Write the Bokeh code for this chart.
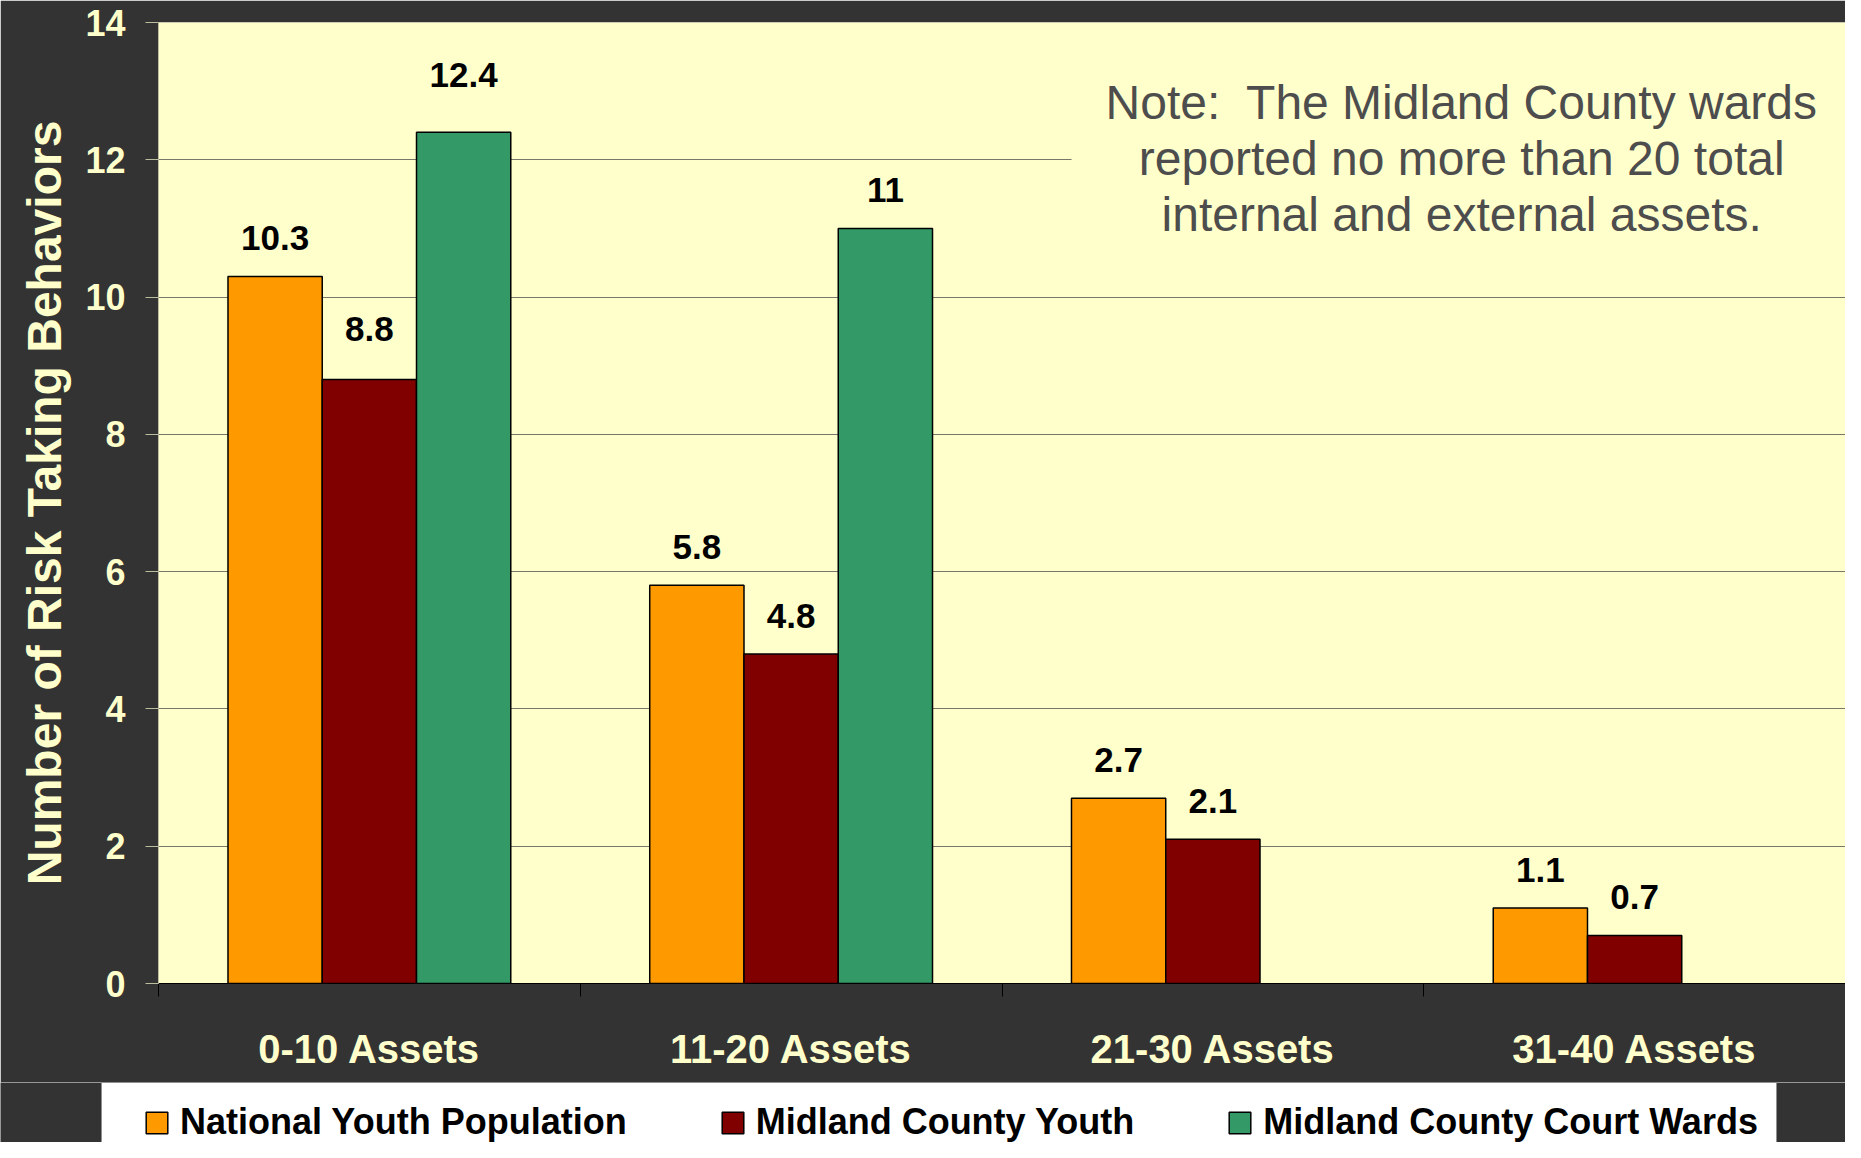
from bokeh.plotting import figure
from bokeh.models import (ColumnDataSource, Range1d, FixedTicker, Legend, LegendItem, Label)
from bokeh.layouts import column, row
from bokeh.core.properties import value
from bokeh.embed import file_html
from bokeh.resources import INLINE

categories = ["0-10 Assets", "11-20 Assets", "21-30 Assets", "31-40 Assets"]
series_names = ["National Youth Population", "Midland County Youth", "Midland County Court Wards"]
national = [10.3, 5.8, 2.7, 1.1]
midland_youth = [8.8, 4.8, 2.1, 0.7]
court_wards = [12.4, 11.0, None, None]
series_colors = ["#FF9900", "#800000", "#339966"]
y_ticks = [0, 2, 4, 6, 8, 10, 12, 14]
note_text = "Note:\u00a0 The Midland County wards\nreported no more than 20 total\ninternal and external assets."

# label placement (style): base pixel offset above bar top, plus nudges as in the original
LABEL_BASE_OFFSET = -38
label_nudge = {(1, 0): -12, (2, 0): -19}  # (series index, category index) -> extra px

FONT = "Liberation Sans"
CREAM = "#FFFFCC"
DARK = "#333333"
W = 1845

p = figure(width=W, height=1082, output_backend="svg", toolbar_location=None,
           x_range=Range1d(0, len(categories)), y_range=Range1d(0, 14),
           min_border_left=158, min_border_right=0, min_border_top=22, min_border_bottom=99)
p.background_fill_color = CREAM
p.border_fill_color = DARK
p.outline_line_color = None

bar_w = 0.2235
offsets = [-bar_w, 0.0, bar_w]
all_series = [national, midland_youth, court_wards]
sources = []
for s, (vals, off, col) in enumerate(zip(all_series, offsets, series_colors)):
    xs, ys, labels, dys = [], [], [], []
    for i, v in enumerate(vals):
        if v is None:
            continue
        xs.append(i + 0.5 + off)
        ys.append(v)
        labels.append(f"{v:g}")
        dys.append(LABEL_BASE_OFFSET + label_nudge.get((s, i), 0))
    src = ColumnDataSource(dict(x=xs, top=ys, label=labels, dy=dys))
    sources.append(src)
    p.vbar(x="x", top="top", width=bar_w, bottom=0, source=src,
           fill_color=col, line_color="black", line_width=1.5)
    p.text(x="x", y="top", text="label", source=src, text_font=value(FONT),
           text_font_style="bold", text_font_size="35px", text_color="black",
           text_align="center", text_baseline="alphabetic", y_offset="dy")

# axes
xa = p.xaxis[0]
xa.ticker = FixedTicker(ticks=[i + 0.5 for i in range(len(categories))],
                        minor_ticks=list(range(len(categories) + 1)))
xa.major_label_overrides = {i + 0.5: c for i, c in enumerate(categories)}
xa.major_tick_line_color = None
xa.major_tick_out = 0
xa.major_tick_in = 0
xa.minor_tick_line_color = "black"
xa.minor_tick_out = 13
xa.minor_tick_in = 0
xa.axis_line_color = "black"
xa.major_label_text_color = CREAM
xa.major_label_text_font = FONT
xa.major_label_text_font_style = "bold"
xa.major_label_text_font_size = "40px"
xa.major_label_standoff = 30

ya = p.yaxis[0]
ya.ticker = FixedTicker(ticks=y_ticks, minor_ticks=[])
ya.major_tick_out = 13
ya.major_tick_in = 0
ya.major_tick_line_color = "#BDBDA0"
ya.axis_line_color = "#BDBDA0"
ya.major_label_text_color = CREAM
ya.major_label_text_font = FONT
ya.major_label_text_font_style = "bold"
ya.major_label_text_font_size = "36px"
ya.major_label_standoff = 20
ya.axis_label = "Number of Risk Taking Behaviors"
ya.axis_label_text_color = CREAM
ya.axis_label_text_font = FONT
ya.axis_label_text_font_style = "bold"
ya.axis_label_text_font_size = "48px"
ya.axis_label_standoff = 11

p.xgrid.grid_line_color = None
p.ygrid.ticker = FixedTicker(ticks=y_ticks)
p.ygrid.grid_line_color = "#77776A"
p.ygrid.grid_line_width = 1

note = Label(x=3.09, y=13.72, text=note_text, text_align="center", text_baseline="top",
             text_font=FONT, text_font_size="48px", text_color="#4D4D4D",
             text_line_height=1.06, background_fill_color=CREAM, padding=34)
p.add_layout(note)

# ---- legend strip ----
LEG_LEFT = 101
pad_fig = figure(width=LEG_LEFT, height=60, output_backend="svg", toolbar_location=None,
                 x_axis_type=None, y_axis_type=None,
                 min_border_left=0, min_border_right=0, min_border_top=0, min_border_bottom=0)
pad_fig.background_fill_color = DARK
pad_fig.border_fill_color = DARK
pad_fig.outline_line_color = None

lp = figure(width=W - LEG_LEFT, height=60, output_backend="svg", toolbar_location=None,
            x_range=Range1d(100, 101), y_range=Range1d(100, 101),
            x_axis_type=None, y_axis_type=None,
            min_border_left=0, min_border_right=0, min_border_top=0, min_border_bottom=0)
lp.background_fill_color = DARK
lp.border_fill_color = DARK
lp.outline_line_color = None
leg_renderers = []
for src, col in zip(sources, series_colors):
    r = lp.vbar(x="x", top="top", width=bar_w, bottom=0, source=src,
                fill_color=col, line_color="black", line_width=1.5)
    leg_renderers.append(r)

legend = Legend(items=[LegendItem(label=n, renderers=[r]) for n, r in zip(series_names, leg_renderers)],
                orientation="horizontal", location="top_left", margin=0,
                title=" ", title_location="left", title_text_font_size="10px", title_standoff=12,
                label_text_font=FONT, label_text_font_style="bold", label_text_font_size="36px",
                label_text_color="black", glyph_width=27, glyph_height=27, label_standoff=10,
                spacing=92, padding=18, background_fill_color="white", background_fill_alpha=1.0,
                border_line_color="#222222", border_line_width=1)
lp.add_layout(legend, "center")

page = column(p, row(pad_fig, lp, spacing=0), spacing=0)
open("out.html", "w").write(file_html(page, INLINE))
